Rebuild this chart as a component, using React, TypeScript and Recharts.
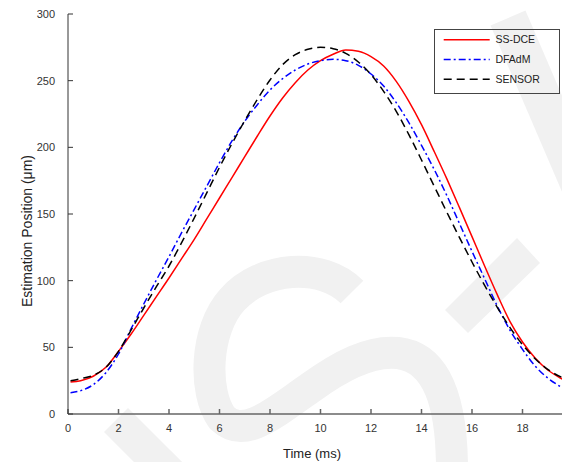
import React from 'react';
import { LineChart, Line, XAxis, YAxis, Legend } from 'recharts';

const TIME = [0.1, 0.5, 1, 1.5, 2, 2.5, 3, 3.5, 4, 4.5, 5, 5.5, 6, 6.5, 7, 7.5, 8, 8.5, 9, 9.5, 10, 10.5, 11, 11.5, 12, 12.5, 13, 13.5, 14, 14.5, 15, 15.5, 16, 16.5, 17, 17.5, 18, 18.5, 19, 19.5, 19.8];
const SS_DCE = [24, 25, 28.3, 35, 47, 60, 74, 88, 102, 116.5, 131, 146.5, 162, 177.5, 193, 208.5, 223.5, 237, 248.5, 258, 265, 269.8, 273, 272, 268, 261, 249.5, 234.5, 217, 197, 176.5, 155, 133, 111, 89.5, 69.5, 54, 42, 33, 27, 24];
const DFADM = [16, 17.5, 22, 31, 45, 64, 82.5, 100.5, 118, 136, 153.5, 171, 188.5, 205, 219.5, 232, 243, 251.5, 258, 262.5, 265, 266, 265, 261.5, 255, 246, 233.5, 218.5, 201.5, 183.5, 164, 143, 122, 101.5, 81, 63, 48.5, 36, 27, 20.5, 17];
const SENSOR = [25, 26.5, 29, 35, 47, 63, 79.5, 95.5, 111, 128.5, 147, 166, 185, 203, 220, 236, 250.5, 262, 269.5, 273.5, 275, 274, 270.5, 264, 254.5, 242, 227, 209.5, 190.5, 171, 151.5, 132.5, 114, 96.5, 80, 65, 52, 41.5, 33.5, 28, 26];

const X_TICKS = [0, 2, 4, 6, 8, 10, 12, 14, 16, 18, 20];
const Y_TICKS = [0, 50, 100, 150, 200, 250, 300];

const SERIES = [
  { key: 'ssdce', name: 'SS-DCE', color: '#ff0000', dash: undefined as string | undefined },
  { key: 'dfadm', name: 'DFAdM', color: '#0000ff', dash: '7 3 2 3' },
  { key: 'sensor', name: 'SENSOR', color: '#000000', dash: '8 5' },
];

const data = TIME.map((t, i) => ({ t, ssdce: SS_DCE[i], dfadm: DFADM[i], sensor: SENSOR[i] }));

const FONT = '"Liberation Sans", Arial, Helvetica, sans-serif';

const LegendBox = () => (
  <div style={{ width: 126, height: 65, boxSizing: 'border-box', border: '1px solid #444', fontFamily: FONT }}>
    <svg width={124} height={63} style={{ display: 'block' }}>
      {SERIES.map((s, i) => {
        const y = 9.7 + i * 19.8;
        return (
          <g key={s.key}>
            <line x1={8.7} x2={54.7} y1={y} y2={y} stroke={s.color} strokeWidth={1.5} strokeDasharray={s.dash} />
            <text x={60.4} y={y} dy="0.36em" fontSize={10.5} fill="#222">{s.name}</text>
          </g>
        );
      })}
    </svg>
  </div>
);

const WM = '#f1f1f1';

export default function App() {
  return (
    <div style={{ position: 'relative', width: 562, height: 454, overflow: 'hidden' }}>
      <svg width={570} height={462} style={{ position: 'absolute', left: -8, top: -8 }}>
        <path d="M 352 292 C 322 262, 262 266, 232 300 C 205 330, 203 392, 222 418 C 245 440, 275 412, 310 388 C 340 366, 370 350, 398 353 C 432 357, 452 392, 452 470" fill="none" stroke={WM} strokeWidth={32} />
        <line x1={116} y1={420} x2={175} y2={479} stroke={WM} strokeWidth={34} />
        <line x1={508} y1={18} x2={600} y2={232} stroke={WM} strokeWidth={38} />
        <polygon points="445,310 517,238 540,263 468,333" fill={WM} />
      </svg>
      <div style={{ position: 'absolute', left: 0, top: 0 }}>
        <LineChart width={580} height={454} data={data} margin={{ top: 6, right: 15, left: 0, bottom: 0 }}>
          <XAxis
            dataKey="t"
            type="number"
            domain={[0, 20]}
            ticks={X_TICKS}
            allowDataOverflow
            height={48}
            tickSize={-5}
            tickMargin={15}
            stroke="#666"
            strokeWidth={1.5}
            tick={{ fontSize: 11, fill: '#333', fontFamily: FONT }}
            label={{
              content: () => (
                <text x={304} y={449.7} textAnchor="middle" fontSize={13} fill="#222" fontFamily={FONT}>Time (ms)</text>
              ),
            }}
          />
          <XAxis
            xAxisId="top"
            orientation="top"
            dataKey="t"
            type="number"
            domain={[0, 20]}
            ticks={X_TICKS}
            height={0}
            tickSize={-5}
            tick={false}
            stroke="#666"
          />
          <YAxis
            type="number"
            domain={[0, 300]}
            ticks={Y_TICKS}
            width={60}
            tickSize={-5}
            tickMargin={18}
            stroke="#333"
            tick={{ fontSize: 11, fill: '#333', fontFamily: FONT }}
            label={{
              content: () => (
                <text x={23.7} y={223} transform="rotate(-90 23.7 223)" textAnchor="middle" fontSize={14} fill="#222" fontFamily={FONT}>Estimation Position (μm)</text>
              ),
            }}
          />
          <YAxis
            yAxisId="right"
            orientation="right"
            type="number"
            domain={[0, 300]}
            ticks={Y_TICKS}
            width={0}
            tickSize={-5}
            tick={false}
            stroke="#666"
          />
          <Legend
            layout="vertical"
            align="center"
            verticalAlign="middle"
            wrapperStyle={{ left: 426.3, top: 21.3, width: 126, height: 65 }}
            content={() => <LegendBox />}
          />
          {SERIES.map((s) => (
            <Line
              key={s.key}
              dataKey={s.key}
              name={s.name}
              type="monotone"
              stroke={s.color}
              strokeWidth={1.5}
              strokeDasharray={s.dash}
              dot={false}
              activeDot={false}
              isAnimationActive={false}
            />
          ))}
        </LineChart>
      </div>
    </div>
  );
}
